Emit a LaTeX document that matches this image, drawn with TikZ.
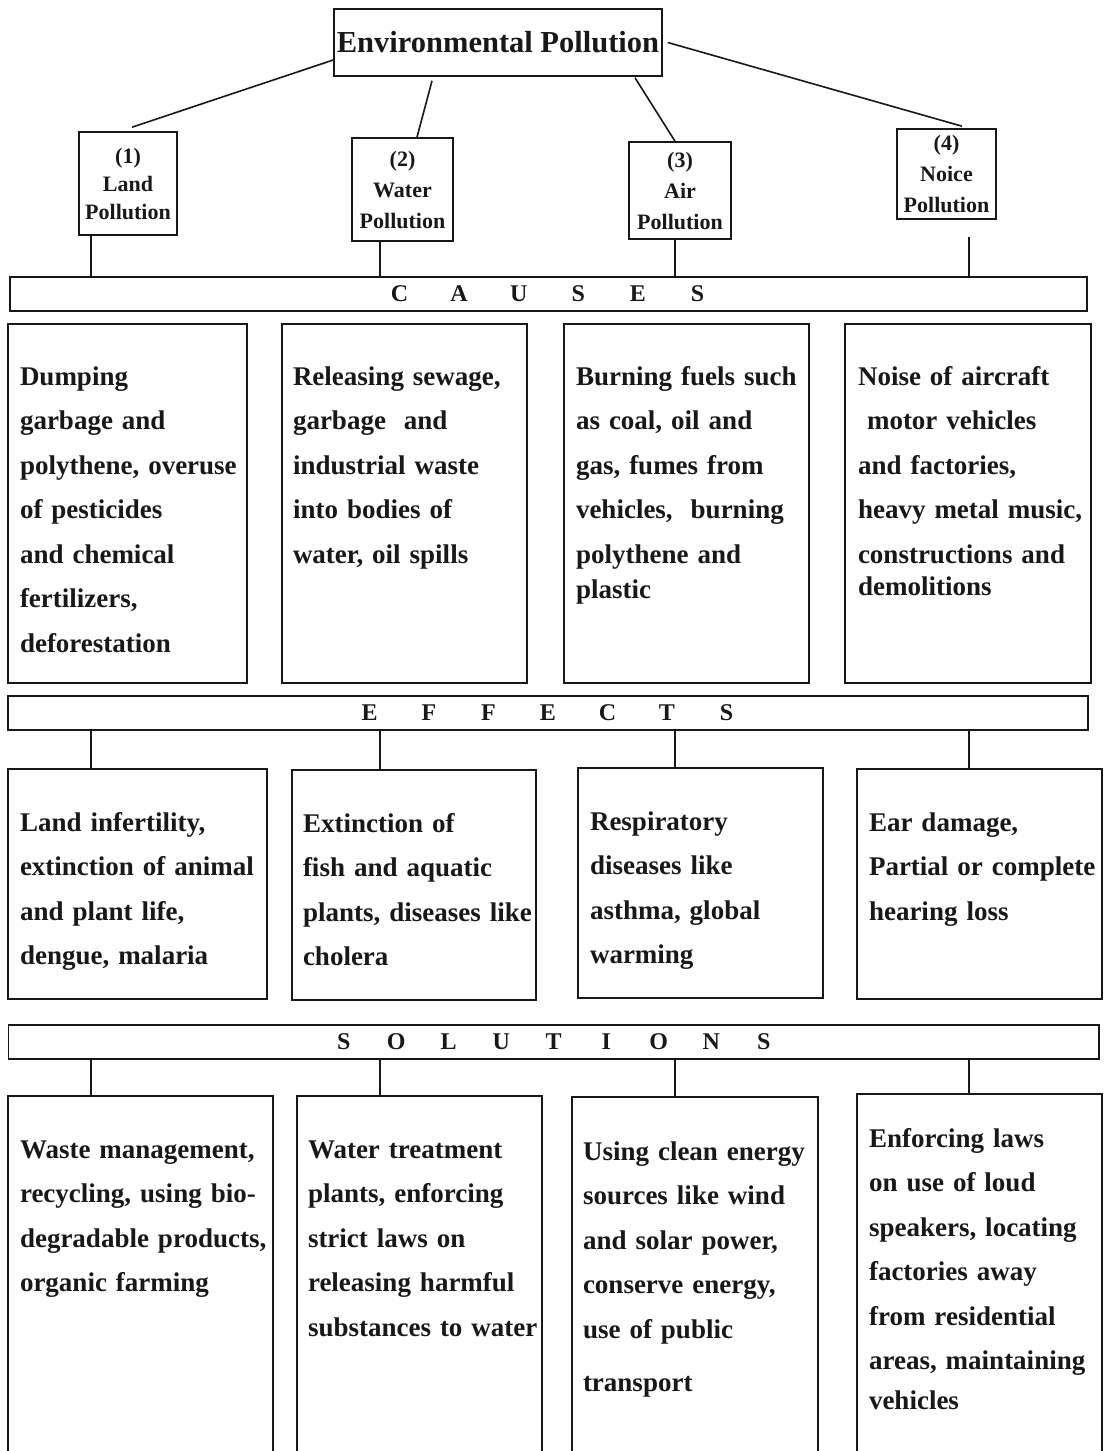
\documentclass[tikz,border=0pt]{standalone}
\usepackage{fontspec}
\setmainfont{Liberation Serif}
\definecolor{ink}{HTML}{1A1718}
\newcommand{\spreadword}[2]{\foreach \ch in {#2}{\makebox[#1]{\ch}}}

\begin{document}
\begin{tikzpicture}[x=1pt, y=-1pt, line width=1.6pt, ink,
    topbox/.style={draw, inner sep=0pt, align=center, font=\fontsize{22}{31}\selectfont\bfseries},
    bar/.style={draw, inner sep=0pt, minimum height=34pt, font=\fontsize{24}{28}\selectfont\bfseries},
    listbox/.style={draw, inner sep=0pt},
    listtext/.style={anchor=base west, inner sep=0pt, text width=270pt, align=left, font=\fontsize{27}{44.5}\selectfont\bfseries}]
    \useasboundingbox (0,0) rectangle (1104,1451);

    \node[draw, inner sep=0pt, minimum width=328pt, minimum height=67pt, font=\fontsize{30.5}{36}\selectfont\bfseries] (title) at (498,42.5) {Environmental Pollution};

    \node[topbox, minimum width=98pt, minimum height=103pt, font=\fontsize{22}{28}\selectfont\bfseries] (land) at (128,183.5) {(1)\\Land\\Pollution};
    \node[topbox, minimum width=101pt, minimum height=103pt] (water) at (402.5,189.5) {(2)\\Water\\Pollution};
    \node[topbox, minimum width=102pt, minimum height=97pt] (air) at (680,190.5) {(3)\\Air\\Pollution};
    \node[topbox, minimum width=99pt, minimum height=90pt] (noise) at (946.5,174) {(4)\\Noice\\Pollution};

    \draw ([yshift=-17.5pt]title.west) -- ([xshift=4pt,yshift=4pt]land.north);
    \draw ([xshift=-66pt,yshift=-4pt]title.south) -- ([xshift=14.5pt]water.north);
    \draw ([xshift=137pt,yshift=-1pt]title.south) -- ([xshift=-5pt]air.north);
    \draw ([xshift=5pt]title.east) -- ([xshift=15.5pt,yshift=2pt]noise.north);

    \node[bar, minimum width=1077pt] (causes) at (548.5,294) {\spreadword{59.6pt}{C,A,U,S,E,S}};
    \node[bar, minimum width=1080pt] (effects) at (548,713) {\spreadword{59.5pt}{E,F,F,E,C,T,S}};
    \node[bar, minimum width=1090.5pt] (solutions) at (553.75,1042) {\spreadword{52.5pt}{S,O,L,U,T,I,O,N,S}};

    \foreach \i/\x in {1/91,2/380,3/675,4/969}
        \coordinate (col\i) at (\x,0);
    \coordinate (noisefoot) at (969,237);

    \draw (land.south -| col1) -- (causes.north -| col1);
    \draw (water.south -| col2) -- (causes.north -| col2);
    \draw (air.south -| col3) -- (causes.north -| col3);
    \draw (noisefoot) -- (causes.north -| col4);

    % causes
    \node[listbox, minimum width=239pt, minimum height=359pt] (cause1) at (127.5,503.5) {};
    \node[listbox, minimum width=245pt, minimum height=359pt] (cause2) at (404.5,503.5) {};
    \node[listbox, minimum width=245pt, minimum height=359pt] (cause3) at (686.5,503.5) {};
    \node[listbox, minimum width=246pt, minimum height=359pt] (cause4) at (968,503.5) {};
    \node[listtext] (cause1text) at ([xshift=12pt,yshift=-62pt]cause1.north west) {Dumping\\garbage and\\polythene, overuse\\of pesticides\\and chemical\\fertilizers,\\deforestation};
    \node[listtext] (cause2text) at ([xshift=11pt,yshift=-62pt]cause2.north west) {Releasing sewage,\\garbage\ \ and\\industrial waste\\into bodies of\\water, oil spills};
    \node[listtext] (cause3text) at ([xshift=12pt,yshift=-62pt]cause3.north west) {Burning fuels such\\as coal, oil and\\gas, fumes from\\vehicles,\ \ burning\\polythene and\\[-9.5pt]plastic};
    \node[listtext] (cause4text) at ([xshift=13pt,yshift=-62pt]cause4.north west) {Noise of aircraft\\\ motor vehicles\\and factories,\\heavy metal music,\\constructions and\\[-12.5pt]demolitions};

    % effects
    \node[listbox, minimum width=259pt, minimum height=230pt] (effect1) at (137.5,884) {};
    \node[listbox, minimum width=244pt, minimum height=230pt] (effect2) at (414,885) {};
    \node[listbox, minimum width=245pt, minimum height=230pt] (effect3) at (700.5,883) {};
    \node[listbox, minimum width=245pt, minimum height=230pt] (effect4) at (979.5,884) {};
    \node[listtext] (effect1text) at ([xshift=12pt,yshift=-63pt]effect1.north west) {Land infertility,\\extinction of animal\\and plant life,\\dengue, malaria};
    \node[listtext] (effect2text) at ([xshift=11pt,yshift=-63pt]effect2.north west) {Extinction of\\fish and aquatic\\plants, diseases like\\cholera};
    \node[listtext] (effect3text) at ([xshift=12pt,yshift=-63pt]effect3.north west) {Respiratory\\diseases like\\asthma, global\\warming};
    \node[listtext] (effect4text) at ([xshift=12pt,yshift=-63pt]effect4.north west) {Ear damage,\\Partial or complete\\hearing loss};

    % solutions
    \node[listbox, minimum width=265pt, minimum height=364pt] (sol1) at (140.5,1278) {};
    \node[listbox, minimum width=245pt, minimum height=364pt] (sol2) at (419.5,1278) {};
    \node[listbox, minimum width=246pt, minimum height=363pt] (sol3) at (695,1278.5) {};
    \node[listbox, minimum width=245pt, minimum height=366pt] (sol4) at (979.5,1277) {};
    \node[listtext] (sol1text) at ([xshift=12pt,yshift=-63pt]sol1.north west) {Waste management,\\recycling, using bio-\\degradable products,\\organic farming};
    \node[listtext] (sol2text) at ([xshift=11pt,yshift=-63pt]sol2.north west) {Water treatment\\plants, enforcing\\strict laws on\\releasing harmful\\substances to water};
    \node[listtext] (sol3text) at ([xshift=11pt,yshift=-64pt]sol3.north west) {Using clean energy\\sources like wind\\and solar power,\\conserve energy,\\use of public\\[8.5pt]transport};
    \node[listtext] (sol4text) at ([xshift=12pt,yshift=-54pt]sol4.north west) {Enforcing laws\\on use of loud\\speakers, locating\\factories away\\from residential\\areas, maintaining\\[-4.5pt]vehicles};

    \foreach \i in {1,...,4}
        \draw (effects.south -| col\i) -- (effect\i.north -| col\i);
    \foreach \i in {1,...,4}
        \draw (solutions.south -| col\i) -- (sol\i.north -| col\i);
\end{tikzpicture}
\end{document}
